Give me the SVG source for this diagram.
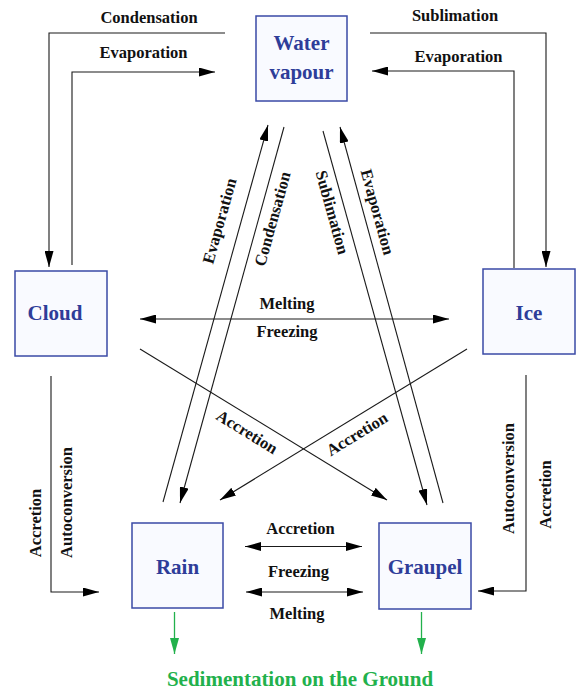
<svg xmlns="http://www.w3.org/2000/svg" width="579" height="690" viewBox="0 0 579 690">
<style>
.box{fill:#f9faff;stroke:#3a4aa6;stroke-width:1.5}
.nt{font-family:"Liberation Serif","Times New Roman",serif;font-weight:bold;font-size:21px;fill:#2e3d99;text-anchor:middle}
.ln{fill:none;stroke:#1a1a1a;stroke-width:1.1}
.lb{font-family:"Liberation Serif","Times New Roman",serif;font-weight:bold;font-size:16.5px;fill:#111;text-anchor:middle}
.gr{fill:none;stroke:#22b14c;stroke-width:1.3}
.gt{font-family:"Liberation Serif","Times New Roman",serif;font-weight:bold;font-size:21px;fill:#22b14c;text-anchor:middle}
</style>
<defs>
<marker id="ah" viewBox="0 0 16 9" markerWidth="16" markerHeight="9" refX="16" refY="4.5" orient="auto-start-reverse" markerUnits="userSpaceOnUse"><path d="M0,0 L16,4.5 L0,9 z" fill="#000"/></marker>
<marker id="gh" viewBox="0 0 16 9" markerWidth="16" markerHeight="9" refX="16" refY="4.5" orient="auto" markerUnits="userSpaceOnUse"><path d="M0,0 L16,4.5 L0,9 z" fill="#22b14c"/></marker>
</defs>
<rect width="579" height="690" fill="#fff"/>
<g id="water-vapour"><rect class="box" x="256" y="16" width="91" height="85"/><text class="nt" x="301.5" y="50">Water</text><text class="nt" x="301.5" y="79">vapour</text></g>
<g id="cloud"><rect class="box" x="15" y="271" width="92" height="85"/><text class="nt" x="55" y="320">Cloud</text></g>
<g id="ice"><rect class="box" x="483" y="269" width="92" height="85"/><text class="nt" x="529" y="320">Ice</text></g>
<g id="rain"><rect class="box" x="132" y="523" width="91" height="85"/><text class="nt" x="177.5" y="574">Rain</text></g>
<g id="graupel"><rect class="box" x="379" y="523" width="92" height="86"/><text class="nt" x="425" y="574">Graupel</text></g>
<g id="connectors">
<path class="ln" d="M225,33 H49 V267" marker-end="url(#ah)"/>
<path class="ln" d="M72,265 V72 H215" marker-end="url(#ah)"/>
<path class="ln" d="M370,33 H546 V267" marker-end="url(#ah)"/>
<path class="ln" d="M514,268 V71 H372" marker-end="url(#ah)"/>
<path class="ln" d="M163,502 L268,125" marker-end="url(#ah)"/>
<path class="ln" d="M284,127 L180,503" marker-end="url(#ah)"/>
<path class="ln" d="M323,131 L427,505" marker-end="url(#ah)"/>
<path class="ln" d="M443,503 L340,127" marker-end="url(#ah)"/>
<path class="ln" d="M140,319 H449" marker-start="url(#ah)" marker-end="url(#ah)"/>
<path class="ln" d="M140,349 L387,500" marker-end="url(#ah)"/>
<path class="ln" d="M467,349 L220,500" marker-end="url(#ah)"/>
<path class="ln" d="M51,376 V592 H99" marker-end="url(#ah)"/>
<path class="ln" d="M526,375 V591 H478" marker-end="url(#ah)"/>
<path class="ln" d="M245,546.5 H362" marker-start="url(#ah)" marker-end="url(#ah)"/>
<path class="ln" d="M246,592 H363" marker-start="url(#ah)" marker-end="url(#ah)"/>
<path class="gr" d="M174.5,612 V654" marker-end="url(#gh)"/>
<path class="gr" d="M421.5,612 V654" marker-end="url(#gh)"/>
<text class="lb" x="149" y="23">Condensation</text>
<text class="lb" x="143.5" y="58">Evaporation</text>
<text class="lb" x="455" y="21">Sublimation</text>
<text class="lb" x="458.5" y="62">Evaporation</text>
<text class="lb" transform="translate(220,221) rotate(-74.4)" dy="0.3em">Evaporation</text>
<text class="lb" transform="translate(273,219) rotate(-74.4)" dy="0.3em">Condensation</text>
<text class="lb" transform="translate(331.7,212.5) rotate(74.5)" dy="0.3em">Sublimation</text>
<text class="lb" transform="translate(377,212) rotate(74.5)" dy="0.3em">Evaporation</text>
<text class="lb" x="287" y="309">Melting</text>
<text class="lb" x="287" y="337">Freezing</text>
<text class="lb" transform="translate(247,432) rotate(31.4)" dy="0.33em">Accretion</text>
<text class="lb" transform="translate(357,434) rotate(-31.4)" dy="0.33em">Accretion</text>
<text class="lb" transform="translate(36,523) rotate(-90)" dy="0.33em">Accretion</text>
<text class="lb" transform="translate(67,502.5) rotate(-90)" dy="0.33em">Autoconversion</text>
<text class="lb" transform="translate(509,478.5) rotate(-90)" dy="0.33em">Autoconversion</text>
<text class="lb" transform="translate(546,494.5) rotate(-90)" dy="0.33em">Accretion</text>
<text class="lb" x="300.5" y="534">Accretion</text>
<text class="lb" x="298.5" y="577">Freezing</text>
<text class="lb" x="297" y="619">Melting</text>
<text class="gt" x="300" y="686">Sedimentation on the Ground</text>
</g>
</svg>
